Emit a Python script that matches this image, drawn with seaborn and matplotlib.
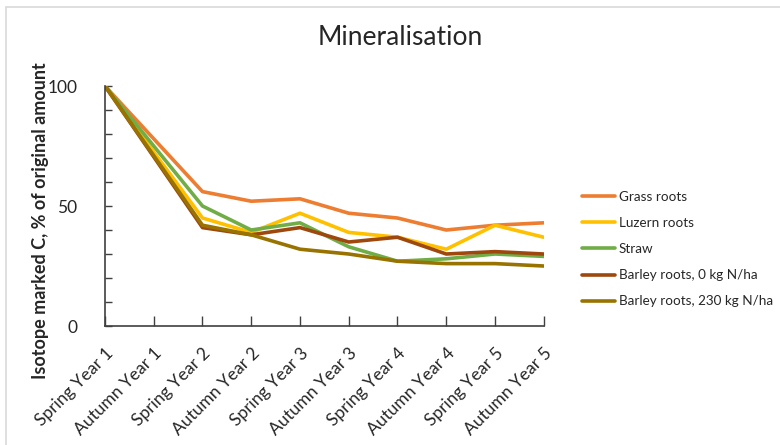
import numpy as np
import pandas as pd
import matplotlib
matplotlib.use("Agg")
import matplotlib.pyplot as plt
import seaborn as sns
from matplotlib.patches import Rectangle

periods = ["Spring Year 1", "Autumn Year 1", "Spring Year 2", "Autumn Year 2",
           "Spring Year 3", "Autumn Year 3", "Spring Year 4", "Autumn Year 4",
           "Spring Year 5", "Autumn Year 5"]
grass_roots = [100, np.nan, 56, 52, 53, 47, 45, 40, 42, 43]
luzern_roots = [100, np.nan, 45, 39, 47, 39, 37, 32, 42, 37]
straw = [100, np.nan, 50, 40, 43, 33, 27, 28, 30, 29]
barley_0 = [100, np.nan, 41, 38, 41, 35, 37, 30, 31, 30]
barley_230 = [100, np.nan, 42, 38, 32, 30, 27, 26, 26, 25]

series_names = ["Grass roots", "Luzern roots", "Straw",
                "Barley roots, 0 kg N/ha", "Barley roots, 230 kg N/ha"]
series_values = [grass_roots, luzern_roots, straw, barley_0, barley_230]
colors = ["#ED7D31", "#FFC000", "#70AD47", "#9E480E", "#997300"]

rows = []
for name, vals in zip(series_names, series_values):
    for i, v in enumerate(vals):
        rows.append({"pos": i, "period": periods[i], "series": name, "value": v})
df = pd.DataFrame(rows)

sns.set_theme(style="white")
plt.rcParams["font.family"] = ["Lato", "DejaVu Sans"]

fig = plt.figure(figsize=(7.8, 4.45), dpi=100)
ax = fig.add_axes([0.1346, 0.2674, 0.5625, 0.5393])

# chart border like the Excel chart area
fig.patches.append(Rectangle((6 / 780, -0.1), 1.2, 1 - 7 / 445 + 0.1,
                             transform=fig.transFigure, fill=False,
                             edgecolor="#D9D9D9", linewidth=1.2))

# missing values are dropped, so lines join across the gap
sns.lineplot(data=df, x="pos", y="value", hue="series", palette=colors,
             hue_order=series_names, linewidth=2.6, ax=ax, legend=True)

ax.set_xlim(0, len(periods) - 1)
ax.set_ylim(0, 100)
ax.set_xticks(range(len(periods)))
ax.set_xticklabels(periods, rotation=45, ha="right", rotation_mode="anchor",
                   fontsize=12.5)
ax.set_yticks([0, 50, 100])
ax.set_yticks(range(0, 101, 10), minor=True)
ax.tick_params(axis="y", labelsize=12.5, direction="in", length=5, width=1,
               color="#404040", left=True, which="both", pad=20)
ax.tick_params(axis="x", direction="in", length=7, width=1, color="#404040",
               bottom=True, pad=14)
ax.set_xlabel("")
ax.set_ylabel("Isotope marked C, % of original amount", fontsize=13,
              fontweight="bold")
ax.yaxis.label.set_va("center")
ax.yaxis.set_label_coords(-0.148, 0.4375)
for s in ["top", "right"]:
    ax.spines[s].set_visible(False)
for s in ["left", "bottom"]:
    ax.spines[s].set_color("#404040")
    ax.spines[s].set_linewidth(1.2)

handles, labels = ax.get_legend_handles_labels()
ax.get_legend().remove()
fig.legend(handles, labels, loc="center left", bbox_to_anchor=(0.731, 0.44),
           frameon=False, fontsize=9.7, handlelength=2.4, handletextpad=0.3,
           labelspacing=1.05)

fig.text(0.513, 0.915, "Mineralisation", ha="center", va="center", fontsize=19)

fig.savefig("out.png", dpi=100)
